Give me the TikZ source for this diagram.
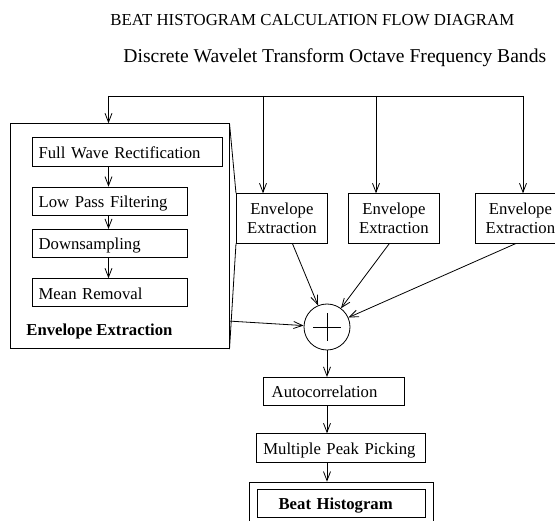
\documentclass[tikz,border=0pt]{standalone}
\usepackage{fontspec}
\setmainfont{Liberation Serif}
\usepackage{tikz}
\usetikzlibrary{arrows.meta}
\newcommand{\boxfont}{\fontsize{16.7}{19.5}\selectfont}

\begin{document}
\begin{tikzpicture}[x=1pt,y=-1pt,>={Straight Barb[length=9pt,width=7pt]},line width=0.8pt]
\tikzstyle{stage}=[rectangle,draw,anchor=north west,align=left,inner ysep=0pt,text height=13pt,text depth=0pt,font=\boxfont]
\tikzstyle{bandbox}=[rectangle,draw,anchor=north west,align=center,minimum width=91pt,minimum height=49.4pt,font=\boxfont]
\tikzstyle{plaintext}=[anchor=base west,inner sep=0pt]
\useasboundingbox (0,0) rectangle (555,521);
\clip (0,0) rectangle (555,521);
\node[plaintext,font=\fontsize{16.8}{20}\selectfont] (title) at (110,26) {BEAT HISTOGRAM CALCULATION FLOW DIAGRAM};
\node[plaintext,font=\fontsize{19.6}{23}\selectfont] (bands) at (123,63) {Discrete Wavelet Transform Octave Frequency Bands};
% detail of one envelope extraction
\node[draw,anchor=north west,minimum width=218.7pt,minimum height=225pt] (envbig) at (10,123.3) {};
\node[stage,text width=177pt,inner xsep=6.5pt,minimum height=28.4pt] (fullwave) at (31.7,137.3) {Full Wave Rectification};
\node[stage,text width=142pt,inner xsep=6.5pt,minimum height=28.3pt] (lowpass) at (31.7,186.7) {Low Pass Filtering};
\node[stage,text width=142pt,inner xsep=6.5pt,minimum height=27.7pt] (downsample) at (31.7,229) {Downsampling};
\node[stage,text width=142pt,inner xsep=6.5pt,minimum height=27.7pt] (meanrem) at (31.7,278.3) {Mean Removal};
\node[plaintext,font=\boxfont\bfseries] (envlabel) at (26,336) {Envelope Extraction};
% the other bands
\node[bandbox] (env1) at (236,193.3) {Envelope\\Extraction};
\node[bandbox] (env2) at (348,193.3) {Envelope\\Extraction};
\node[bandbox] (env3) at (474.5,193.3) {Envelope\\Extraction};
\node[circle,draw,minimum size=46pt,inner sep=0pt] (sum) at (327,327) {};
\draw ([xshift=-14pt]sum.center) -- ([xshift=14pt]sum.center);
\draw ([yshift=-14pt]sum.center) -- ([yshift=14pt]sum.center);
\node[stage,text width=125pt,inner xsep=8pt,minimum height=28pt] (autocorr) at (263.3,377) {Autocorrelation};
\node[stage,text width=155pt,inner xsep=7pt,minimum height=28.4pt] (peaks) at (256,433.3) {Multiple Peak Picking};
\node[draw,anchor=north west,minimum width=184pt,minimum height=60pt] (beatouter) at (249.3,481.7) {};
\node[stage,text width=125.5pt,inner xsep=21.5pt,minimum height=27.5pt,font=\boxfont\bfseries] (beat) at (256.7,489.3) {Beat Histogram};
% band bus
\coordinate (bus0) at (108.5,96);
\coordinate (bus1) at (263,96);
\coordinate (bus2) at (376,96);
\coordinate (bus3) at (523,96);
\draw (bus0) -- (bus3);
\draw[->] (bus0) -- (bus0 |- envbig.north);
\draw[->] (bus1) -- (bus1 |- env1.north);
\draw[->] (bus2) -- (bus2 |- env2.north);
\draw[->] (bus3) -- (bus3 |- env3.north);
\draw[->] (fullwave.south -| bus0) -- (lowpass.north -| bus0);
\draw[->] (lowpass.south -| bus0) -- (downsample.north -| bus0);
\draw[->] (downsample.south -| bus0) -- (meanrem.north -| bus0);
\draw (envbig.north east) -- (env1.north west);
\draw (env1.south west) -- (envbig.south east);
% into the sum
\draw[->] ([yshift=28pt]envbig.south east) -- (sum);
\draw[->] ([xshift=10.5pt]env1.south) -- (sum);
\draw[->] ([xshift=-4.5pt]env2.south) -- (sum);
\draw[->] ([xshift=-4.5pt]env3.south) -- (sum);
\draw[->] (sum) -- (autocorr.north -| sum);
\draw[->] (autocorr.south -| sum) -- (peaks.north -| sum);
\draw[->] (peaks.south -| sum) -- (beatouter.north -| sum);
\end{tikzpicture}
\end{document}
